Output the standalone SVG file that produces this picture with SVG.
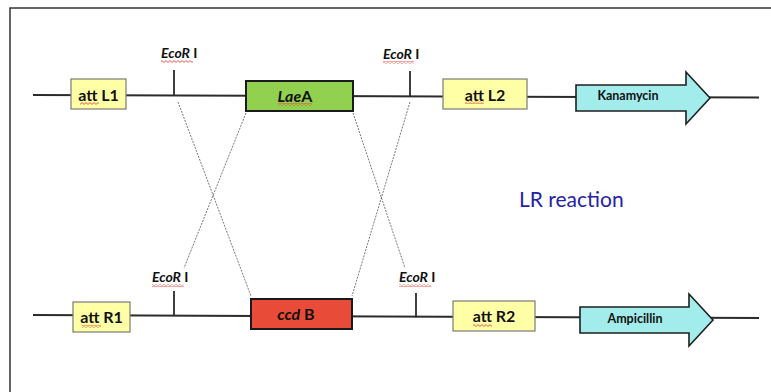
<svg xmlns="http://www.w3.org/2000/svg" width="771" height="392" viewBox="0 0 771 392">
  <defs>
    <style>
      .strand { stroke: #2b2b2b; stroke-width: 2; fill: none; }
      .tick { stroke: #2b2b2b; stroke-width: 1.8; }
      .cross { stroke: #555; stroke-width: 0.8; stroke-dasharray: 2 1.2; fill: none; }
      .att { fill: #FFFFA6; stroke: #7a7a7a; stroke-width: 1.2; }
      .gene { stroke: #1a1a1a; stroke-width: 2; }
      .marker { fill: #A3ECEC; stroke: #1f1f1f; stroke-width: 1.6; stroke-linejoin: miter; }
      .lbl { font-family: Lato, "Liberation Sans", Arial, sans-serif; font-weight: bold; fill: #111; }
      .box-lbl { font-size: 16px; text-anchor: middle; }
      .site { font-size: 14px; }
      .res { font-size: 12.5px; text-anchor: middle; }
      .spell { fill: url(#squiggle); }
    </style>
    <pattern id="squiggle" width="4" height="3" patternUnits="userSpaceOnUse">
      <path d="M0 2.4 L2 0.6 L4 2.4" fill="none" stroke="#e5483c" stroke-width="0.9"/>
    </pattern>
  </defs>

  <!-- page frame -->
  <path d="M10 392 V8 H771" fill="none" stroke="#333" stroke-width="1.5"/>

  <!-- connectors: strands, restriction ticks and recombination crossovers -->
  <g id="connectors">
    <path class="strand" d="M33 95 L759 97.5"/>
    <path class="strand" d="M33 315 L759 318"/>
    <line class="tick" x1="174" y1="70" x2="174" y2="95.5"/>
    <line class="tick" x1="410" y1="71" x2="410" y2="96.5"/>
    <line class="tick" x1="174" y1="291" x2="174" y2="315.5"/>
    <line class="tick" x1="416" y1="293" x2="416" y2="317.5"/>
    <line class="cross" x1="178" y1="102" x2="251" y2="296"/>
    <line class="cross" x1="246" y1="113" x2="184" y2="268"/>
    <line class="cross" x1="353" y1="113" x2="405" y2="268"/>
    <line class="cross" x1="410" y1="102" x2="352" y2="296"/>
  </g>

  <!-- top construct -->
  <g id="attL1">
    <rect class="att" x="71" y="79" width="55" height="30"/>
    <text class="lbl box-lbl" x="98.5" y="100.5">att L1</text>
    <rect class="spell" x="80" y="102" width="19" height="3"/>
  </g>
  <g id="ecori-top-1">
    <text class="lbl site" x="161" y="58"><tspan font-style="italic">EcoR</tspan> I</text>
    <rect class="spell" x="161" y="60" width="32" height="3"/>
  </g>
  <g id="laeA">
    <rect class="gene" x="246" y="81" width="107" height="30" fill="#92D050"/>
    <text class="lbl box-lbl" x="295" y="102"><tspan font-style="italic">Lae</tspan>A</text>
    <rect class="spell" x="278" y="103" width="34" height="3"/>
  </g>
  <g id="ecori-top-2">
    <text class="lbl site" x="383" y="59"><tspan font-style="italic">EcoR</tspan> I</text>
    <rect class="spell" x="383" y="61" width="31" height="3"/>
  </g>
  <g id="attL2">
    <rect class="att" x="443" y="79" width="84" height="30"/>
    <text class="lbl box-lbl" x="485" y="100.5">att L2</text>
    <rect class="spell" x="465" y="101" width="19" height="3"/>
  </g>
  <g id="kanamycin">
    <path class="marker" d="M576 85 H686 V72 L710 98 L686 124 V111 H576 Z"/>
    <text class="lbl res" x="628" y="99.5">Kanamycin</text>
  </g>

  <!-- bottom construct -->
  <g id="attR1">
    <rect class="att" x="73" y="302" width="57" height="30"/>
    <text class="lbl box-lbl" x="101.5" y="323">att R1</text>
    <rect class="spell" x="82" y="325" width="19" height="3"/>
  </g>
  <g id="ecori-bottom-1">
    <text class="lbl site" x="152" y="282"><tspan font-style="italic">EcoR</tspan> I</text>
    <rect class="spell" x="152" y="284" width="32" height="3"/>
  </g>
  <g id="ccdB">
    <rect class="gene" x="251" y="299" width="101" height="30" fill="#E84B37"/>
    <text class="lbl box-lbl" x="296" y="320"><tspan font-style="italic">ccd</tspan> B</text>
    <rect class="spell" x="279" y="322" width="22" height="3"/>
  </g>
  <g id="ecori-bottom-2">
    <text class="lbl site" x="399" y="282"><tspan font-style="italic">EcoR</tspan> I</text>
    <rect class="spell" x="399" y="284" width="32" height="3"/>
  </g>
  <g id="attR2">
    <rect class="att" x="453" y="301" width="82" height="30"/>
    <text class="lbl box-lbl" x="494" y="322">att R2</text>
    <rect class="spell" x="473" y="324" width="19" height="3"/>
  </g>
  <g id="ampicillin">
    <path class="marker" d="M580 307 H689 V294 L713 320 L689 346 V333 H580 Z"/>
    <text class="lbl res" x="635" y="322.5">Ampicillin</text>
  </g>

  <g id="lr-reaction">
    <text x="519" y="207" font-family="Lato, 'Liberation Sans', Arial, sans-serif" font-size="21" fill="#2323a3">LR reaction</text>
  </g>
</svg>
